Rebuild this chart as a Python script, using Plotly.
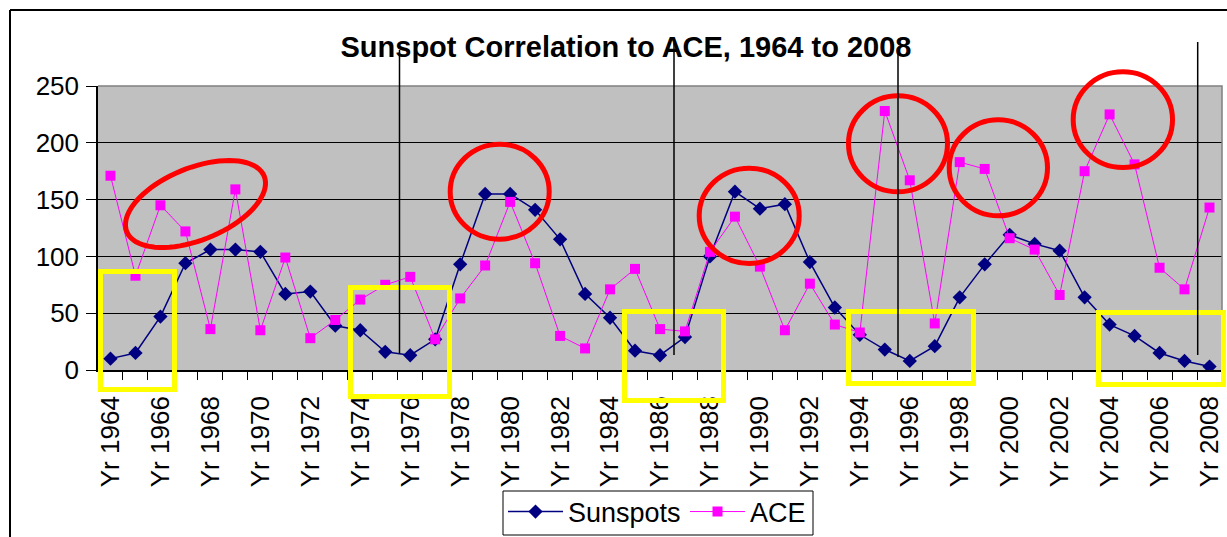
import numpy as np
import plotly.graph_objects as go

# ---- data ----
years = [1964, 1965, 1966, 1967, 1968, 1969, 1970, 1971, 1972, 1973, 1974, 1975,
         1976, 1977, 1978, 1979, 1980, 1981, 1982, 1983, 1984, 1985, 1986, 1987,
         1988, 1989, 1990, 1991, 1992, 1993, 1994, 1995, 1996, 1997, 1998, 1999,
         2000, 2001, 2002, 2003, 2004, 2005, 2006, 2007, 2008]
sunspots = [10, 15, 47, 94, 106, 106, 104, 67, 69, 39, 35, 16,
            13, 27, 93, 155, 155, 141, 115, 67, 46, 17, 13, 29,
            100, 157, 142, 146, 95, 55, 31, 18, 8, 21, 64, 93,
            119, 111, 105, 64, 40, 30, 15, 8, 3]
ace = [171, 83, 145, 122, 36, 159, 35, 99, 28, 44, 62, 75,
       82, 27, 63, 92, 148, 94, 30, 19, 71, 89, 36, 34,
       104, 135, 91, 35, 76, 40, 33, 228, 167, 41, 183, 177,
       116, 106, 66, 175, 225, 181, 90, 71, 143]
label_years = [1964, 1966, 1968, 1970, 1972, 1974, 1976, 1978, 1980, 1982, 1984, 1986,
               1988, 1990, 1992, 1994, 1996, 1998, 2000, 2002, 2004, 2006, 2008]
tick_labels = ["Yr %d" % y for y in label_years]

FONT = "Liberation Sans, Arial, sans-serif"
W, H = 1227, 537
L, R, T, B = 98, 5, 86, 167
PW, PH = W - L - R, H - T - B


def fx(px):
    return (px - L) / PW


def fy(py):
    return (H - B - py) / PH


fig = go.Figure()
fig.add_trace(go.Scatter(
    x=years, y=sunspots, name="Sunspots", mode="lines+markers", legend="legend",
    line=dict(color="#000080", width=1.5),
    marker=dict(symbol="diamond", size=11, color="#000080"),
))
fig.add_trace(go.Scatter(
    x=years, y=ace, name="ACE", mode="lines+markers", legend="legend2",
    line=dict(color="#ff00ff", width=1),
    marker=dict(symbol="square", size=10, color="#ff00ff"),
))

shapes = []
# chart outer border (top and left)
shapes.append(dict(type="line", xref="paper", yref="paper", x0=fx(10), x1=fx(W + 5),
                   y0=fy(10), y1=fy(10), line=dict(color="black", width=2)))
shapes.append(dict(type="line", xref="paper", yref="paper", x0=fx(10), x1=fx(10),
                   y0=fy(10), y1=fy(H + 5), line=dict(color="black", width=2)))
# plot area gray border (top and right)
shapes.append(dict(type="path", xref="paper", yref="paper",
                   path="M0,1 L1,1 L1,0", line=dict(color="#808080", width=1.5)))
# legend box
shapes.append(dict(type="rect", xref="paper", yref="paper",
                   x0=fx(503), x1=fx(813), y0=fy(491), y1=fy(535),
                   line=dict(color="black", width=1), fillcolor="white", layer="below"))

# yellow rectangles (outer pixel edges, stroke 5)
rects = [(98, 177, 269, 392), (348, 452, 285, 399), (622, 726, 309, 403),
         (846, 976, 309, 386), (1096, 1226, 310, 387)]
for x0, x1, y0, y1 in rects:
    shapes.append(dict(type="rect", xref="paper", yref="paper",
                       x0=fx(x0 + 2.5), x1=fx(x1 - 2.5), y0=fy(y0 + 2.5), y1=fy(y1 - 2.5),
                       line=dict(color="#ffff00", width=5), layer="above"))

# red circles (outer pixel extents)
circles = [(447.7, 551.7, 141.7, 241.7), (696.7, 801.7, 165.7, 266),
           (846, 950, 93.3, 194.3), (946.7, 1050, 117.3, 218.3),
           (1070.7, 1175, 69.3, 170)]
for x0, x1, y0, y1 in circles:
    shapes.append(dict(type="circle", xref="paper", yref="paper",
                       x0=fx(x0 + 2.5), x1=fx(x1 - 2.5), y0=fy(y0 + 2.5), y1=fy(y1 - 2.5),
                       line=dict(color="#ff0000", width=5), layer="above"))

# tilted red ellipse
cx, cy, a, b, th = 195.5, 204, 74.1, 36.1, np.radians(22)
t = np.linspace(0, 2 * np.pi, 80)
ex = cx + a * np.cos(t) * np.cos(th) - b * np.sin(t) * np.sin(th)
ey = cy - (a * np.cos(t) * np.sin(th) + b * np.sin(t) * np.cos(th))
path = "M" + " L".join("%.5f,%.5f" % (fx(u), fy(v)) for u, v in zip(ex, ey)) + " Z"
shapes.append(dict(type="path", xref="paper", yref="paper", path=path,
                   line=dict(color="#ff0000", width=5), layer="above"))

# black vertical lines
vlines = [(399.5, 50, 354), (674, 43, 355), (898, 50, 357), (1197.7, 42, 355)]
for x, y0, y1 in vlines:
    shapes.append(dict(type="line", xref="paper", yref="paper", x0=fx(x), x1=fx(x),
                       y0=fy(y0), y1=fy(y1), line=dict(color="black", width=1.5),
                       layer="above"))

leg_common = dict(orientation="h", xref="container", yref="container",
                  xanchor="left", yanchor="middle", y=1 - 512 / H,
                  borderwidth=0, bgcolor="rgba(0,0,0,0)", itemwidth=55,
                  font=dict(family=FONT, size=27, color="black"))

fig.update_layout(
    width=W, height=H,
    margin=dict(l=L, r=R, t=T, b=B, pad=0, autoexpand=False),
    paper_bgcolor="white", plot_bgcolor="#c0c0c0",
    font=dict(family=FONT, color="black"),
    title=dict(text="<b>Sunspot Correlation to ACE, 1964 to 2008</b>",
               font=dict(family=FONT, size=29, color="black"),
               x=626 / W, xref="container", xanchor="center",
               y=1 - 47 / H, yref="container", yanchor="middle"),
    showlegend=True,
    legend=dict(x=503 / W, **leg_common),
    legend2=dict(x=685 / W, **leg_common),
    shapes=shapes,
)
fig.update_xaxes(
    range=[1963.5, 2008.5], tickmode="array", tickvals=label_years, ticktext=tick_labels,
    tickangle=-90, ticks="", ticklabelstandoff=14, automargin=False,
    tickfont=dict(family=FONT, size=26, color="black"),
    showgrid=False, zeroline=False, showline=True, linecolor="black", linewidth=1.5,
    minor=dict(tickmode="linear", tick0=1963.5, dtick=1, ticks="outside", ticklen=8,
               tickcolor="black", tickwidth=1, showgrid=False),
)
fig.update_yaxes(
    range=[0, 250], tickmode="linear", tick0=0, dtick=50, automargin=False,
    ticks="outside", ticklen=10, tickcolor="black", tickwidth=1,
    ticklabelstandoff=2,
    tickfont=dict(family=FONT, size=26, color="black"),
    showgrid=True, gridcolor="black", gridwidth=1, zeroline=False,
    showline=True, linecolor="black", linewidth=1.5,
)

fig.write_html("out.html", config={"displayModeBar": False},
               post_script="document.body.style.margin='0';document.body.style.padding='0';")
